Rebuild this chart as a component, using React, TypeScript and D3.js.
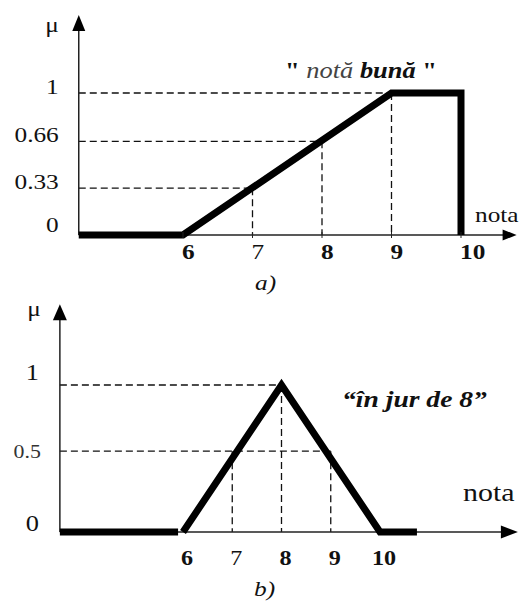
import React from "react";
import * as d3 from "d3";

// ---------- Data ----------
// Panel a) "notă bună"
const aCurveX = [4.5, 6, 9, 10, 10];
const aCurveMu = [0, 0, 1, 1, 0];
const aTicks = ["6", "7", "8", "9", "10"];
const aTickVals = [6, 7, 8, 9, 10];
const aBoldTicks = [true, false, true, true, true];
const aLevels = [1, 0.66, 0.33];
const aLevelX = [9, 8, 7];
const aYLabels = ["1", "0.66", "0.33", "0"];
const aYLabelVals = [1, 0.66, 0.33, 0];
const aAxisStart = 4.5;
const aAxisEnd = 10.8;
const aAxisTop = 1.55;

// Panel b) "în jur de 8"
const bLeftX = [3.5, 5.9];
const bLeftMu = [0, 0];
const bCurveX = [6, 8, 10, 10.75];
const bCurveMu = [0, 1, 0, 0];
const bTicks = ["6", "7", "8", "9", "10"];
const bTickVals = [6, 7, 8, 9, 10];
const bBoldTicks = [true, false, true, true, true];
const bLevels = [1, 0.55, 0.55];
const bLevelX = [8, 9, 7];
const bYLabels = ["1", "0.5", "0"];
const bYLabelVals = [1, 0.55, 0];
const bAxisStart = 3.5;
const bAxisEnd = 12.8;
const bAxisTop = 1.55;

const SERIF = "'Liberation Serif', 'Times New Roman', serif";
const SX = 1.15;

function T(props: {
  x: number;
  y: number;
  size: number;
  anchor?: string;
  weight?: string;
  italic?: boolean;
  fill?: string;
  children: React.ReactNode;
}) {
  return (
    <text
      transform={`translate(${props.x},${props.y}) scale(${SX},1)`}
      fontFamily={SERIF}
      fontSize={props.size}
      textAnchor={props.anchor || "start"}
      fontWeight={props.weight || "normal"}
      fontStyle={props.italic ? "italic" : "normal"}
      fill={props.fill || "#111"}
    >
      {props.children}
    </text>
  );
}

export default function App() {
  // scales
  const xa = d3.scaleLinear().domain([6, 10]).range([183, 461]);
  const ya = d3.scaleLinear().domain([0, 1]).range([235, 93]);
  const xb = d3.scaleLinear().domain([6, 10]).range([183, 380]);
  const yb = d3.scaleLinear().domain([0, 1]).range([532, 385]);

  const lineA = d3
    .line<number>()
    .x((_, i) => xa(aCurveX[i]))
    .y((d) => ya(d));
  const lineBLeft = d3
    .line<number>()
    .x((_, i) => xb(bLeftX[i]))
    .y((d) => yb(d));
  const lineB = d3
    .line<number>()
    .x((_, i) => xb(bCurveX[i]))
    .y((d) => yb(d));

  const dash = "7,4";
  const axisCol = "#222";
  const dashCol = "#111";

  const aAx0 = xa(aAxisStart);
  const aAy0 = ya(0);
  const aXEnd = xa(aAxisEnd);
  const aYTop = ya(aAxisTop);
  const bAx0 = xb(bAxisStart);
  const bAy0 = yb(0);
  const bXEnd = xb(bAxisEnd);
  const bYTop = yb(bAxisTop);

  return (
    <svg
      width={520}
      height={601}
      style={{ position: "absolute", left: 0, top: 0, background: "#fff" }}
    >
      <rect x={0} y={0} width={520} height={601} fill="#fff" />
      {/* ================= Panel a ================= */}
      {aLevels.map((lv, i) => (
        <g key={"ag" + i}>
          <line
            x1={aAx0}
            x2={xa(aLevelX[i])}
            y1={ya(lv)}
            y2={ya(lv)}
            stroke={dashCol}
            strokeWidth={1.3}
            strokeDasharray={dash}
          />
          <line
            x1={xa(aLevelX[i])}
            x2={xa(aLevelX[i])}
            y1={ya(lv)}
            y2={aAy0}
            stroke={dashCol}
            strokeWidth={1.3}
            strokeDasharray={dash}
          />
        </g>
      ))}
      <line x1={aAx0} x2={aXEnd - 12} y1={aAy0} y2={aAy0} stroke={axisCol} strokeWidth={1.5} />
      <line x1={aAx0} x2={aAx0} y1={aAy0} y2={aYTop + 14} stroke={axisCol} strokeWidth={1.5} />
      <path
        d={`M${aXEnd},${aAy0} L${aXEnd - 14},${aAy0 - 5.5} L${aXEnd - 14},${aAy0 + 5.5} Z`}
        fill="#000"
      />
      <path
        d={`M${aAx0},${aYTop} L${aAx0 - 6.5},${aYTop + 16} L${aAx0 + 6.5},${aYTop + 16} Z`}
        fill="#000"
      />
      <path
        d={lineA(aCurveMu) || ""}
        fill="none"
        stroke="#000"
        strokeWidth={7}
        strokeLinejoin="miter"
        strokeMiterlimit={2}
      />
      {aTickVals.map((v, i) => (
        <line key={"atm" + i} x1={xa(v)} x2={xa(v)} y1={aAy0 - 3} y2={aAy0 + 3} stroke={axisCol} strokeWidth={1} />
      ))}
      {aTicks.map((t, i) => (
        <T
          key={"at" + i}
          x={xa(aTickVals[i]) - 1}
          y={aAy0 + 24}
          size={22}
          weight={aBoldTicks[i] ? "bold" : "normal"}
        >
          {t}
        </T>
      ))}
      {aYLabels.map((t, i) => (
        <T
          key={"ay" + i}
          x={aAx0 - 20}
          y={ya(aYLabelVals[i]) + (aYLabelVals[i] === 0 ? -3 : 1)}
          size={22}
          anchor="end"
        >
          {t}
        </T>
      ))}
      <T x={52} y={32} size={22} anchor="middle">
        μ
      </T>
      <T x={475} y={222} size={22}>
        nota
      </T>
      <text
        transform={`translate(285,78) scale(${SX},1)`}
        fontFamily={SERIF}
        fontSize={23}
        fill="#111"
      >
        <tspan fontWeight="bold">"</tspan>
        <tspan fontStyle="italic" fill="#444"> notă </tspan>
        <tspan fontStyle="italic" fontWeight="bold">bună</tspan>
        <tspan fontWeight="bold"> "</tspan>
      </text>
      <T x={255} y={290} size={22} italic>
        a)
      </T>

      {/* ================= Panel b ================= */}
      {bLevels.map((lv, i) => (
        <g key={"bg" + i}>
          {i < 2 && (
            <line
              x1={bAx0}
              x2={xb(bLevelX[i])}
              y1={yb(lv)}
              y2={yb(lv)}
              stroke={dashCol}
              strokeWidth={1.3}
              strokeDasharray={dash}
            />
          )}
          <line
            x1={xb(bLevelX[i])}
            x2={xb(bLevelX[i])}
            y1={yb(lv)}
            y2={bAy0}
            stroke={dashCol}
            strokeWidth={1.3}
            strokeDasharray={dash}
          />
        </g>
      ))}
      <line x1={bAx0} x2={bXEnd - 12} y1={bAy0} y2={bAy0} stroke={axisCol} strokeWidth={1.5} />
      <line x1={bAx0} x2={bAx0} y1={bAy0} y2={bYTop + 14} stroke={axisCol} strokeWidth={1.5} />
      <path
        d={`M${bXEnd},${bAy0} L${bXEnd - 17},${bAy0 - 6.5} L${bXEnd - 17},${bAy0 + 6.5} Z`}
        fill="#000"
      />
      <path
        d={`M${bAx0},${bYTop} L${bAx0 - 7},${bYTop + 16} L${bAx0 + 7},${bYTop + 16} Z`}
        fill="#000"
      />
      <path d={lineBLeft(bLeftMu) || ""} fill="none" stroke="#000" strokeWidth={7} />
      <path
        d={lineB(bCurveMu) || ""}
        fill="none"
        stroke="#000"
        strokeWidth={7}
        strokeLinejoin="miter"
        strokeMiterlimit={3}
      />
      {bTicks.map((t, i) => (
        <T
          key={"bt" + i}
          x={xb(bTickVals[i]) + 4}
          y={bAy0 + 33}
          size={21}
          anchor="middle"
          weight={bBoldTicks[i] ? "bold" : "normal"}
        >
          {t}
        </T>
      ))}
      {bYLabels.map((t, i) => {
        const small = t === "0.5";
        return (
          <T
            key={"by" + i}
            x={bAx0 - (small ? 19 : 21)}
            y={yb(bYLabelVals[i]) + (small ? 7 : i === 0 ? -5 : -1)}
            size={small ? 19 : 23}
            anchor="end"
            fill={small ? "#333" : "#111"}
          >
            {t}
          </T>
        );
      })}
      <T x={34} y={316} size={22} anchor="middle">
        μ
      </T>
      <T x={463} y={501} size={26}>
        nota
      </T>
      <T x={342} y={407} size={24} italic weight="bold">
        “în jur de 8”
      </T>
      <T x={254} y={596} size={22} italic>
        b)
      </T>
    </svg>
  );
}
